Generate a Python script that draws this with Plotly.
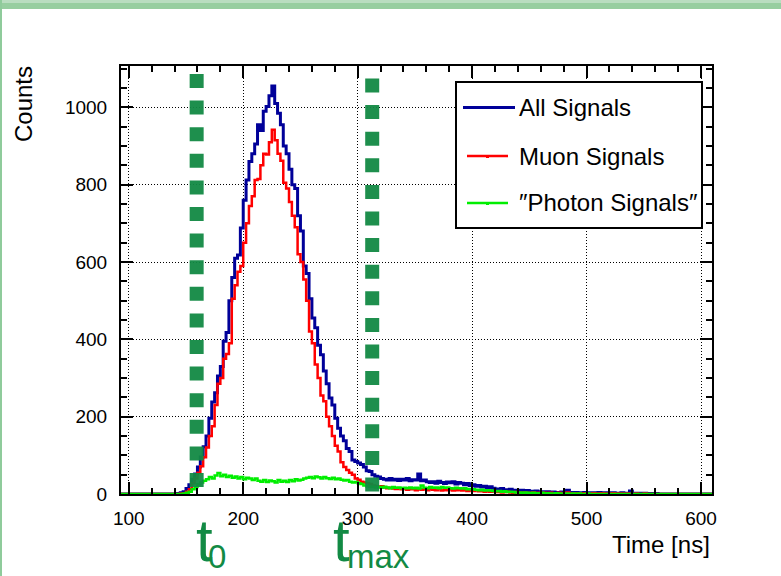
import numpy as np
import plotly.graph_objects as go

# ---------------- data ----------------
BIN_START = 92.5      # ns, left edge of first bin
BIN_WIDTH = 2.5       # ns

T0 = 159.3            # ns
TMAX = 312.7          # ns

x_tick_labels = ["100", "200", "300", "400", "500", "600"]
y_tick_labels = ["0", "200", "400", "600", "800", "1000"]

all_signals = [
    0, 0, 0, 0, 0, 0, 0, 0, 0, 0, 0, 0, 0, 0, 0, 0, 0, 0, 0,
    0, 1, 3, 6, 14, 24, 38, 52, 70, 96,
    122, 150, 196, 238, 262, 305, 330, 395, 418, 500,
    560, 610, 618, 688, 760, 812, 860, 880, 905, 955,
    940, 990, 1002, 1030, 1055, 1010, 985, 955, 900, 880,
    840, 800, 790, 720, 680, 590, 570, 505, 455, 430,
    385, 360, 318, 285, 248, 230, 196, 170, 150, 138,
    118, 110, 88, 84, 80, 76, 70, 60, 58, 50,
    46, 44, 40, 38, 36, 40, 36, 38, 35, 38,
    36, 40, 34, 37, 36, 52, 34, 36, 32, 30,
    32, 28, 33, 30, 27, 31, 29, 32, 26, 30,
    28, 24, 27, 22, 24, 20, 22, 18, 20, 17,
    19, 15, 13, 12, 14, 11, 10, 12, 9, 10,
    8, 10, 7, 9, 6, 7, 8, 5, 6, 5,
    6, 4, 5, 3, 4, 5, 3, 10, 4, 3,
    4, 2, 3, 4, 3, 2, 3, 2, 4, 3,
    2, 3, 2, 3, 1, 2, 3, 1, 2, 8,
    2, 1, 2, 1, 2, 1, 1, 0, 1, 0,
    0, 0, 0, 0, 0, 0, 0, 0, 0, 0, 0, 0, 0, 0, 0, 0, 0, 0,
]

muon_signals = [
    0, 0, 0, 0, 0, 0, 0, 0, 0, 0, 0, 0, 0, 0, 0, 0, 0, 0, 0,
    0, 0, 1, 2, 6, 12, 28, 40, 55, 72,
    95, 120, 150, 175, 230, 285, 300, 350, 362, 390,
    505, 540, 575, 590, 650, 700, 745, 770, 812, 815,
    850, 880, 878, 910, 942, 915, 880, 862, 805, 790,
    755, 720, 690, 620, 600, 555, 500, 420, 390, 335,
    300, 255, 240, 200, 175, 150, 125, 110, 82, 70,
    62, 55, 50, 40, 37, 32, 30, 28, 26, 22,
    21, 18, 20, 17, 15, 16, 14, 13, 15, 12,
    14, 11, 13, 12, 10, 12, 11, 13, 10, 12,
    11, 10, 12, 9, 11, 10, 12, 9, 10, 11,
    9, 10, 8, 9, 8, 10, 7, 8, 6, 7,
    6, 7, 5, 6, 4, 5, 6, 4, 3, 5,
    4, 3, 4, 2, 3, 4, 2, 3, 2, 3,
    2, 3, 1, 2, 3, 1, 2, 4, 1, 2,
    1, 2, 1, 2, 1, 0, 2, 1, 1, 2,
    1, 0, 1, 2, 0, 1, 1, 0, 1, 0,
    0, 1, 0, 0, 1, 0, 0, 0, 0, 0,
    0, 0, 0, 0, 0, 0, 0, 0, 0, 0, 0, 0, 0, 0, 0, 0, 0, 0,
]

photon_signals = [
    0, 0, 0, 0, 0, 0, 0, 0, 0, 0, 0, 0, 0, 0, 0, 0, 0, 0, 0,
    0, 0, 0, 1, 3, 6, 12, 18, 25, 30,
    34, 38, 44, 40, 48, 54, 46, 50, 44, 47,
    42, 45, 40, 44, 38, 42, 40, 36, 40, 34,
    32, 36, 31, 35, 33, 30, 36, 32, 34, 31,
    36, 33, 38, 35, 37, 40, 42, 44, 41, 45,
    43, 40, 44, 41, 39, 42, 38, 40, 37, 35,
    36, 32, 30, 31, 28, 26, 22, 20, 18, 19,
    17, 18, 16, 19, 17, 15, 18, 16, 17, 15,
    16, 15, 17, 15, 16, 14, 22, 16, 15, 18,
    16, 17, 15, 18, 16, 17, 15, 14, 16, 15,
    14, 15, 12, 13, 12, 11, 10, 11, 9, 10,
    9, 8, 7, 8, 6, 7, 5, 6, 5, 4,
    4, 3, 4, 3, 2, 3, 2, 2, 3, 1,
    2, 1, 1, 2, 1, 0, 1, 1, 0, 1,
    0, 1, 0, 0, 1, 0, 0, 0, 0, 0,
    0, 0, 0, 0, 0, 0, 0, 0, 0, 0,
    0, 0, 0, 0, 0, 0, 0, 0, 0, 0,
    0, 0, 0, 0, 0, 0, 0, 0, 0, 0, 0, 0, 0, 0, 0, 0, 0, 0,
]

series_names = ["All Signals", "Muon Signals", "\u2033Photon Signals\u2033"]
series_colors = ["#000099", "#ff0000", "#00ee00"]
series_widths = [3, 2.5, 2.5]

# ---------------- layout geometry ----------------
W, H = 781, 576
ML, MR, MT, MB = 121, 69, 66, 82
PW, PH = W - ML - MR, H - MT - MB
FONT = "Liberation Sans, Arial, Helvetica, sans-serif"
GREEN = "rgb(18,138,68)"


def px(x):
    return (x - ML) / PW


def py(y):
    return (H - MB - y) / PH


def steps(vals):
    edges = BIN_START + BIN_WIDTH * np.arange(len(vals) + 1)
    return edges, list(vals) + [vals[-1]]


fig = go.Figure()
for vals, name, col, lw in zip([all_signals, muon_signals, photon_signals],
                               series_names, series_colors, series_widths):
    xs, ys = steps(vals)
    fig.add_trace(go.Scatter(x=xs, y=ys, mode="lines", name=name,
                             line=dict(color=col, width=lw, shape="hv"),
                             showlegend=False))

shapes = []
# green slide frame
shapes.append(dict(type="rect", xref="paper", yref="paper", x0=px(0), x1=px(W),
                   y0=py(9), y1=py(0), fillcolor="#97cea0", line=dict(width=0),
                   layer="above"))
shapes.append(dict(type="rect", xref="paper", yref="paper", x0=px(0), x1=px(W),
                   y0=py(3), y1=py(0), fillcolor="#b9ddc0", line=dict(width=0),
                   layer="above"))
shapes.append(dict(type="rect", xref="paper", yref="paper", x0=px(0), x1=px(2),
                   y0=py(H), y1=py(0), fillcolor="#8fcb9b", line=dict(width=0),
                   layer="above"))

# t0 / tmax dotted markers
for tval, ytop, ybot in [(T0, 74, 488.5), (TMAX, 78.5, 493)]:
    shapes.append(dict(type="line", xref="x", yref="paper", x0=tval, x1=tval,
                       y0=py(ytop), y1=py(ybot),
                       line=dict(color=GREEN, width=14, dash="14px,12.6px"),
                       opacity=0.95, layer="above"))

# legend box
shapes.append(dict(type="rect", xref="paper", yref="paper", x0=px(456), x1=px(702),
                   y0=py(228), y1=py(82), fillcolor="white",
                   line=dict(color="black", width=2), layer="above"))
leg_y = [107.5, 156, 203]
leg_x = [(463, 515), (467, 508), (467, 508)]
annotations = []
for i, (name, col, lw) in enumerate(zip(series_names, series_colors, series_widths)):
    x0, x1 = leg_x[i]
    shapes.append(dict(type="line", xref="paper", yref="paper", x0=px(x0), x1=px(x1),
                       y0=py(leg_y[i]), y1=py(leg_y[i]),
                       line=dict(color=col, width=lw), layer="above"))
    if i > 0:
        shapes.append(dict(type="rect", xref="paper", yref="paper",
                           x0=px(486), x1=px(489), y0=py(leg_y[i] + 2), y1=py(leg_y[i] - 1),
                           fillcolor=col, line=dict(width=0), layer="above"))
    annotations.append(dict(xref="paper", yref="paper", x=px(517), y=py(leg_y[i]),
                            xanchor="left", yanchor="middle", text=name, showarrow=False,
                            font=dict(family=FONT, size=24, color="black")))

# axis titles
annotations.append(dict(xref="paper", yref="paper", x=px(24), y=py(104), text="Counts",
                        textangle=-90, showarrow=False, xanchor="center", yanchor="middle",
                        font=dict(family=FONT, size=24, color="black")))
annotations.append(dict(xref="paper", yref="paper", x=px(712), y=py(544), text="Time [ns]",
                        showarrow=False, xanchor="right", yanchor="middle",
                        font=dict(family=FONT, size=24, color="black")))

# t0 / tmax labels: main letter and subscript as separate texts
for tval, sub, t_shift, s_shift in [(T0, "0", -3, 9), (TMAX, "max", -41, -27)]:
    annotations.append(dict(xref="x", yref="paper", x=tval, y=py(505), xanchor="left",
                            yanchor="top", xshift=t_shift, text="t", showarrow=False,
                            font=dict(family=FONT, size=60, color=GREEN)))
    annotations.append(dict(xref="x", yref="paper", x=tval, y=py(536), xanchor="left",
                            yanchor="top", xshift=s_shift, text=sub, showarrow=False,
                            font=dict(family=FONT, size=33, color=GREEN)))

axis_common = dict(
    showline=True, linecolor="black", linewidth=2, mirror="allticks",
    ticks="inside", ticklen=12, tickwidth=1.5, tickcolor="black",
    showgrid=True, gridcolor="black", gridwidth=1, griddash="1px,2px",
    zeroline=False, tickfont=dict(family=FONT, size=19, color="black"),
)

fig.update_layout(
    width=W, height=H,
    margin=dict(l=ML, r=MR, t=MT, b=MB, pad=0),
    paper_bgcolor="white", plot_bgcolor="white",
    shapes=shapes, annotations=annotations, showlegend=False,
    xaxis=dict(range=[93.2, 609.6], tickmode="array",
               tickvals=[float(v) for v in x_tick_labels], ticktext=x_tick_labels,
               minor=dict(ticks="inside", ticklen=6, tickcolor="black", dtick=20, tick0=0,
                          showgrid=False),
               ticklabelstandoff=6, **axis_common),
    yaxis=dict(range=[0, 1107], tickmode="array",
               tickvals=[float(v) for v in y_tick_labels], ticktext=y_tick_labels,
               minor=dict(ticks="inside", ticklen=6, tickcolor="black", dtick=50, tick0=0,
                          showgrid=False),
               ticklabelstandoff=8, **axis_common),
)

fig.write_html("out.html")
